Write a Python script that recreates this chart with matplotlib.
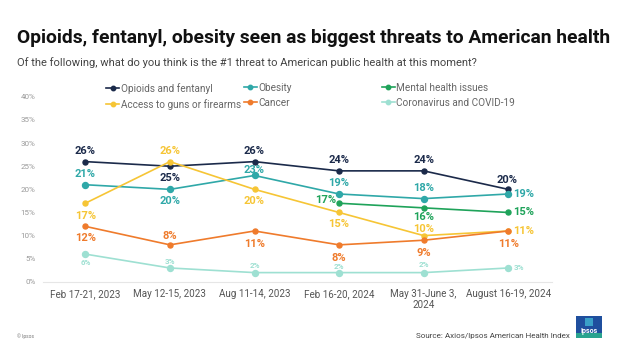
import matplotlib
matplotlib.use("Agg")
from matplotlib import pyplot as plt
from matplotlib.lines import Line2D
from matplotlib.patches import Rectangle

plt.rcParams['font.family'] = ['Roboto', 'DejaVu Sans']

# data
dates = ['Feb 17-21, 2023', 'May 12-15, 2023', 'Aug 11-14, 2023',
         'Feb 16-20, 2024', 'May 31-June 3,\n2024', 'August 16-19, 2024']
opioids = [26, 25, 26, 24, 24, 20]
obesity = [21, 20, 23, 19, 18, 19]
mental = [None, None, None, 17, 16, 15]
guns = [17, 26, 20, 15, 10, 11]
cancer = [12, 8, 11, 8, 9, 11]
covid = [6, 3, 2, 2, 2, 3]

navy = '#1b2a4a'
teal = '#2fa8a8'
green = '#1fa35a'
yellow = '#f6c535'
orange = '#ef7b2c'
mint = '#9ee0d2'

# label offsets in points, one per point
series = [
    ('Opioids and fentanyl', opioids, navy,
     [(0, 8), (0, -8.6), (0, 8), (0, 8), (0, 8), (-1, 7)], 8, 3.6),
    ('Obesity', obesity, teal,
     [(0, 8), (0, -8.6), (0, 4.3), (0, 8), (0, 8), (11, 0)], 8, 4.3),
    ('Mental health issues', mental, green,
     [None, None, None, (-10, 2), (0, -6.5), (11, 0)], 8, 3.6),
    ('Access to guns or firearms', guns, yellow,
     [(0, -9.4), (0, 8), (0, -8.6), (0, -8.6), (0, 5), (11, 0)], 8, 3.6),
    ('Cancer', cancer, orange,
     [(0, -8.6), (0, 6.5), (0, -9.4), (0, -9.4), (0, -9.4), (0, -9.4)], 8, 3.6),
    ('Coronavirus and COVID-19', covid, mint,
     [(0, -5.8), (0, 5), (0, 5), (0, 4.5), (0, 5.5), (8, 0)], 5.8, 4.3),
]

fig = plt.figure(figsize=(6.24, 3.51), dpi=100)
ax = fig.add_axes([0.069, 0.197, 0.816, 0.527])

x = list(range(len(dates)))
handles = {}
for name, vals, color, offs, fs, ms in series:
    xs = [i for i, v in zip(x, vals) if v is not None]
    ys = [v for v in vals if v is not None]
    line, = ax.plot(xs, ys, color=color, lw=1.2, marker='o', ms=ms, zorder=3)
    handles[name] = line
    for i, v in zip(xs, ys):
        ax.annotate(f'{v}%', (i, v), xytext=offs[i], textcoords='offset points',
                    ha='center', va='center', fontsize=fs, fontweight='bold',
                    color=color, zorder=4)

ax.set_xlim(-0.5, 5.52)
ax.set_ylim(0, 40)
ax.set_yticks(range(0, 41, 5))
ax.set_yticklabels([f'{t}%' for t in range(0, 41, 5)])
ax.set_xticks(x)
ax.set_xticklabels(dates)
ax.tick_params(axis='y', length=0, labelsize=5.8, labelcolor='#9a9a9a', pad=5.5)
ax.tick_params(axis='x', length=0, labelsize=7.1, labelcolor='#555555', pad=5)
for s in ['top', 'right', 'left']:
    ax.spines[s].set_visible(False)
ax.spines['bottom'].set_color('#e6e6e6')
ax.spines['bottom'].set_linewidth(0.8)
ax.patch.set_alpha(0)

# legend in three one-column blocks
cols = [(['Opioids and fentanyl', 'Access to guns or firearms'], 0.170),
        (['Obesity', 'Cancer'], 0.391),
        (['Mental health issues', 'Coronavirus and COVID-19'], 0.612)]
for names, xpos in cols:
    hs = [Line2D([], [], color=handles[n].get_color(), marker='o', ms=3.2, lw=1.2)
          for n in names]
    fig.legend(hs, names, loc='upper left', bbox_to_anchor=(xpos, 0.764),
               frameon=False, fontsize=7.2, labelcolor='#666666',
               handlelength=1.3, handletextpad=0.15, labelspacing=0.5,
               borderaxespad=0, borderpad=0)

fig.text(0.027, 0.892, 'Opioids, fentanyl, obesity seen as biggest threats to American health',
         fontsize=13.9, fontweight='bold', color='#111111', ha='left', va='center')
fig.text(0.027, 0.821, 'Of the following, what do you think is the #1 threat to American public health at this moment?',
         fontsize=8.0, color='#444444', ha='left', va='center')
fig.text(0.027, 0.043, '© Ipsos', fontsize=3.5, color='#777777', ha='left', va='center')
fig.text(0.913, 0.043, 'Source: Axios/Ipsos American Health Index', fontsize=5.8,
         color='#444444', ha='right', va='center')

# Ipsos logo block
fig.patches.append(Rectangle((0.923, 0.037), 0.042, 0.063, transform=fig.transFigure,
                             facecolor='#1f4f9e', edgecolor='none'))
fig.patches.append(Rectangle((0.923, 0.037), 0.042, 0.015, transform=fig.transFigure,
                             facecolor='#2aa38f', edgecolor='none'))
fig.patches.append(Rectangle((0.938, 0.072), 0.012, 0.022, transform=fig.transFigure,
                             facecolor='#3aa0c8', edgecolor='none'))
fig.text(0.944, 0.058, 'Ipsos', fontsize=5, fontweight='bold', color='white',
         ha='center', va='center')

fig.savefig('out.png', dpi=100)
